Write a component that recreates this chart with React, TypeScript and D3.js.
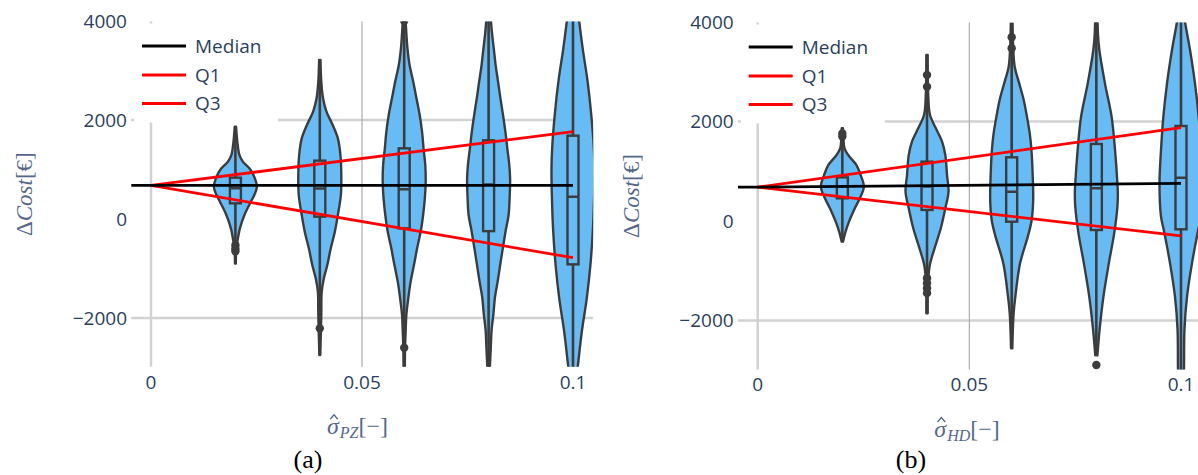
import React from "react";
import * as d3 from "d3";

// ---------- data ----------
const groupX = [0.02, 0.04, 0.06, 0.08, 0.1];
const xTicks = [0, 0.05, 0.1];
const xTickLabels = ["0", "0.05", "0.1"];
const yTicks = [-2000, 0, 2000, 4000];
const yTickLabels = ["\u22122000", "0", "2000", "4000"];
const legendNames = ["Median", "Q1", "Q3"];

type Profile = [number, number][]; // [value, relative density]

// Panel (a): sigma_PZ
const pzProfiles: Profile[] = [
  [[-900, 0.02], [-600, 0.04], [-458, 0.09], [-189, 0.21], [81, 0.42], [350, 0.72], [485, 0.88], [653, 1.0], [890, 0.84], [1024, 0.65], [1158, 0.35], [1290, 0.19], [1560, 0.09], [1865, 0.03]],
  [[-2747, 0.02], [-1939, 0.07], [-1468, 0.09], [-1199, 0.19], [-929, 0.35], [-593, 0.51], [-256, 0.7], [81, 0.84], [485, 0.98], [889, 1.0], [1293, 0.96], [1630, 0.84], [1899, 0.6], [2168, 0.31], [2438, 0.15], [2774, 0.07], [3212, 0.03]],
  [[-2980, 0.03], [-2600, 0.04], [-2242, 0.07], [-1939, 0.1], [-1569, 0.2], [-1266, 0.3], [-896, 0.47], [-593, 0.6], [-222, 0.78], [81, 0.88], [418, 0.96], [754, 1.0], [1091, 0.98], [1428, 0.9], [1764, 0.83], [2101, 0.72], [2438, 0.57], [2774, 0.42], [3111, 0.25], [3450, 0.15], [3750, 0.1], [4050, 0.06]],
  [[-2990, 0.06], [-2613, 0.1], [-2242, 0.14], [-1939, 0.22], [-1569, 0.3], [-1266, 0.42], [-896, 0.55], [-593, 0.66], [-222, 0.8], [81, 0.93], [450, 0.98], [821, 1.0], [1100, 0.96], [1428, 0.87], [1764, 0.78], [2101, 0.67], [2438, 0.55], [2774, 0.44], [3100, 0.33], [3448, 0.24], [3750, 0.16], [4050, 0.1]],
  [[-3050, 0.2], [-2949, 0.23], [-2276, 0.41], [-1602, 0.64], [-929, 0.81], [-256, 0.92], [418, 0.98], [1024, 1.0], [1428, 0.97], [2101, 0.85], [2774, 0.68], [3448, 0.45], [3987, 0.29], [4100, 0.26]],
];
const pzQ1 = [316, 47, -189, -245, -916];
const pzMedian = [620, 615, 600, 700, 451];
const pzQ3 = [835, 1179, 1428, 1590, 1683];
const pzOutliers: number[][] = [[-530, -600, -650], [-2209], [-2600, 4000], [], []];
const pzTrendX = [0, 0.1];
const pzTrendMedian = [680, 680];
const pzTrendQ1 = [680, 1764];
const pzTrendQ3 = [680, -782];

// Panel (b): sigma_HD
const hdProfiles: Profile[] = [
  [[-415, 0.03], [-214, 0.15], [-13, 0.31], [255, 0.58], [456, 0.81], [690, 1.0], [924, 0.85], [1126, 0.65], [1327, 0.27], [1461, 0.1], [1650, 0.05], [1863, 0.03]],
  [[-1855, 0.03], [-1219, 0.05], [-884, 0.13], [-549, 0.35], [-147, 0.64], [255, 0.85], [590, 1.0], [924, 0.93], [1327, 0.85], [1595, 0.7], [1796, 0.49], [2131, 0.14], [2500, 0.06], [3337, 0.03]],
  [[-2559, 0.03], [-1856, 0.09], [-1521, 0.17], [-851, 0.39], [-300, 0.76], [20, 0.93], [422, 1.0], [890, 0.98], [1427, 0.92], [1762, 0.84], [2097, 0.71], [2432, 0.56], [2767, 0.35], [3100, 0.14], [3500, 0.07], [3973, 0.04]],
  [[-2700, 0.05], [-2191, 0.15], [-1521, 0.33], [-851, 0.58], [-248, 0.83], [287, 0.98], [550, 1.0], [757, 0.98], [1427, 0.87], [2097, 0.71], [2767, 0.4], [3437, 0.14], [3800, 0.07], [4050, 0.06]],
  [[-3050, 0.13], [-2955, 0.14], [-2191, 0.16], [-1521, 0.28], [-851, 0.51], [-181, 0.8], [86, 0.93], [757, 1.0], [1427, 0.93], [2097, 0.82], [2767, 0.65], [3437, 0.42], [4000, 0.19], [4100, 0.17]],
];
const hdQ1 = [456, 222, -14, -181, -167];
const hdMedian = [690, 690, 589, 657, 870];
const hdQ3 = [877, 1193, 1280, 1548, 1910];
const hdOutliers: number[][] = [[1700, 1760], [2935, 2700, -1150, -1250, -1350, -1450], [3692, 3471], [-2894], []];
const hdTrendX = [0, 0.1];
const hdTrendMedian = [680, 758];
const hdTrendQ1 = [680, 1875];
const hdTrendQ3 = [680, -301];

// ---------- style / layout ----------
const X_RANGE = [-0.0047, 0.1048];
const Y_RANGE = [-2985, 3990];
const VIOLIN_FILL = "#68bcf5";
const DARK = "#3c3c3c";
const TICK_COLOR = "#2a3f5f";
const TITLE_COLOR = "#55688b";
const HALF_W = 21.5;
const BOX_HALF = 5.5;

interface PanelData {
  profiles: Profile[];
  q1: number[];
  median: number[];
  q3: number[];
  outliers: number[][];
  trendX: number[];
  trendMedian: number[];
  trendQ1: number[];
  trendQ3: number[];
}

interface PanelLayout {
  id: string;
  x0: number;
  x1: number;
  yNeg: number;
  yPos: number;
  sub: string;
  caption: string;
  captionX: number;
}

function Panel({ layout, data }: { layout: PanelLayout; data: PanelData }) {
  const x = d3.scaleLinear().domain([0, 0.1]).range([layout.x0, layout.x1]);
  const y = d3.scaleLinear().domain([-2000, 2000]).range([layout.yNeg, layout.yPos]);
  const left = x(X_RANGE[0]);
  const right = x(X_RANGE[1]);
  const top = y(Y_RANGE[1]);
  const bottom = y(Y_RANGE[0]);
  const clipId = "clip-" + layout.id;
  const gridCol = "#d2d2d2";

  const trendLine = d3
    .line<[number, number]>()
    .x((d) => x(d[0]))
    .y((d) => y(d[1]));

  const medPts: [number, number][] = [[X_RANGE[0], data.trendMedian[0]] as [number, number]].concat(
    data.trendX.map((v, i) => [v, data.trendMedian[i]] as [number, number])
  );
  const q1Pts = data.trendX.map((v, i) => [v, data.trendQ1[i]] as [number, number]);
  const q3Pts = data.trendX.map((v, i) => [v, data.trendQ3[i]] as [number, number]);

  const legendX0 = x(0) - 9;
  const legendX1 = x(0) + 35;
  const legendTextX = x(0) + 44;
  const legendY = [top + 24.5, top + 53.5, top + 82];
  const legendColors = ["#000000", "#ff0000", "#ff0000"];

  const yMid = (top + bottom) / 2;
  const xTitleStart = x(0.05) - 35;
  const xTitleBase = bottom + 67;
  const hatX = xTitleStart + 7;

  return (
    <g>
      <defs>
        <clipPath id={clipId}>
          <rect x={left} y={top} width={right - left} height={bottom - top} />
        </clipPath>
      </defs>
      {/* gridlines */}
      {yTicks
        .filter((t) => t !== 0 && t < Y_RANGE[1])
        .map((t) => (
          <line key={"gy" + t} x1={left} x2={right} y1={y(t)} y2={y(t)} stroke={gridCol} strokeWidth={2.5} />
        ))}
      {xTicks.map((t) => (
        <line
          key={"gx" + t}
          x1={x(t)}
          x2={x(t)}
          y1={top}
          y2={bottom}
          stroke={t === 0 ? gridCol : "#ababab"}
          strokeWidth={t === 0 ? 2.5 : 1.2}
        />
      ))}
      {/* legend background */}
      <rect x={left + 3} y={top + 2} width={x(0) + 127 - (left + 3)} height={99} fill="#ffffff" />
      {/* violins */}
      <g clipPath={`url(#${clipId})`}>
        {groupX.map((gx, i) => {
          const cx = x(gx);
          const prof = data.profiles[i];
          const area = d3
            .area<[number, number]>()
            .y((d) => y(d[0]))
            .x0((d) => cx - HALF_W * d[1])
            .x1((d) => cx + HALF_W * d[1])
            .curve(d3.curveCatmullRom.alpha(0.5));
          const vMin = prof[0][0];
          const vMax = prof[prof.length - 1][0];
          return (
            <g key={"v" + i}>
              <path d={area(prof) || ""} fill={VIOLIN_FILL} stroke={DARK} strokeWidth={2.4} strokeLinejoin="round" />
              <line x1={cx} x2={cx} y1={y(vMin)} y2={y(vMax)} stroke={DARK} strokeWidth={2.6} />
              <rect
                x={cx - BOX_HALF}
                y={y(data.q3[i])}
                width={BOX_HALF * 2}
                height={y(data.q1[i]) - y(data.q3[i])}
                fill={VIOLIN_FILL}
                stroke={DARK}
                strokeWidth={2.4}
              />
              <line
                x1={cx - BOX_HALF}
                x2={cx + BOX_HALF}
                y1={y(data.median[i])}
                y2={y(data.median[i])}
                stroke={DARK}
                strokeWidth={2.4}
              />
              {data.outliers[i].map((o, k) => (
                <circle key={k} cx={cx} cy={y(o)} r={4.2} fill={DARK} />
              ))}
            </g>
          );
        })}
        {/* trend lines */}
        <path d={trendLine(q1Pts) || ""} fill="none" stroke="#ff0000" strokeWidth={2.8} />
        <path d={trendLine(q3Pts) || ""} fill="none" stroke="#ff0000" strokeWidth={2.8} />
        <path d={trendLine(medPts) || ""} fill="none" stroke="#000000" strokeWidth={2.8} />
      </g>
      {/* legend */}
      {legendNames.map((n, i) => (
        <g key={"lg" + n}>
          <line x1={legendX0} x2={legendX1} y1={legendY[i]} y2={legendY[i]} stroke={legendColors[i]} strokeWidth={3} />
          <text
            x={legendTextX}
            y={legendY[i]}
            dy="0.36em"
            fontFamily="'Open Sans', sans-serif"
            fontSize={19}
            fill={TICK_COLOR}
          >
            {n}
          </text>
        </g>
      ))}
      {/* y tick labels */}
      {yTicks.map((t, i) => (
        <text
          key={"yt" + t}
          x={x(0) - 24}
          y={y(t)}
          dy="0.36em"
          textAnchor="end"
          fontFamily="'Open Sans', sans-serif"
          fontSize={19}
          fill={TICK_COLOR}
        >
          {yTickLabels[i]}
        </text>
      ))}
      {/* x tick labels */}
      {xTicks.map((t, i) => (
        <text
          key={"xt" + t}
          x={x(t)}
          y={bottom + 15}
          dy="0.36em"
          textAnchor="middle"
          fontFamily="'Open Sans', sans-serif"
          fontSize={19}
          fill={TICK_COLOR}
        >
          {xTickLabels[i]}
        </text>
      ))}
      {/* y title */}
      <text
        transform={`translate(${x(0) - 119},${yMid}) rotate(-90)`}
        textAnchor="middle"
        fontFamily="'Liberation Serif', serif"
        fontSize={23}
        fill={TITLE_COLOR}
      >
        <tspan>Δ</tspan>
        <tspan fontStyle="italic">Cost</tspan>
        <tspan>[€]</tspan>
      </text>
      {/* x title: sigma-hat with subscript */}
      <text
        x={xTitleStart}
        y={xTitleBase}
        textAnchor="start"
        fontFamily="'Liberation Serif', serif"
        fontSize={24}
        fill={TITLE_COLOR}
      >
        <tspan fontStyle="italic">σ</tspan>
        <tspan fontStyle="italic" fontSize={16} dx={1} dy={4}>
          {layout.sub}
        </tspan>
        <tspan dy={-4}>[−]</tspan>
      </text>
      <polyline
        points={`${hatX - 3.8},${xTitleBase - 14.5} ${hatX},${xTitleBase - 19} ${hatX + 3.8},${xTitleBase - 14.5}`}
        fill="none"
        stroke={TITLE_COLOR}
        strokeWidth={1.3}
      />
      {/* caption */}
      <text
        x={layout.captionX}
        y={468}
        textAnchor="middle"
        fontFamily="'Liberation Serif', 'Times New Roman', serif"
        fontSize={26}
        fill="#000"
      >
        {layout.caption}
      </text>
    </g>
  );
}

const layoutA: PanelLayout = { id: "a", x0: 151, x1: 573, yNeg: 318, yPos: 120, sub: "PZ", caption: "(a)", captionX: 308 };
const layoutB: PanelLayout = { id: "b", x0: 757.7, x1: 1181, yNeg: 320.5, yPos: 121.5, sub: "HD", caption: "(b)", captionX: 911 };

const dataA: PanelData = {
  profiles: pzProfiles,
  q1: pzQ1,
  median: pzMedian,
  q3: pzQ3,
  outliers: pzOutliers,
  trendX: pzTrendX,
  trendMedian: pzTrendMedian,
  trendQ1: pzTrendQ1,
  trendQ3: pzTrendQ3,
};
const dataB: PanelData = {
  profiles: hdProfiles,
  q1: hdQ1,
  median: hdMedian,
  q3: hdQ3,
  outliers: hdOutliers,
  trendX: hdTrendX,
  trendMedian: hdTrendMedian,
  trendQ1: hdTrendQ1,
  trendQ3: hdTrendQ3,
};

export default function App() {
  return (
    <div style={{ position: "absolute", left: 0, top: 0, width: 1198, height: 475, background: "#fff" }}>
      <svg width={1198} height={475} style={{ display: "block" }}>
        <rect width={1198} height={475} fill="#fff" />
        <Panel layout={layoutA} data={dataA} />
        <Panel layout={layoutB} data={dataB} />
      </svg>
    </div>
  );
}
